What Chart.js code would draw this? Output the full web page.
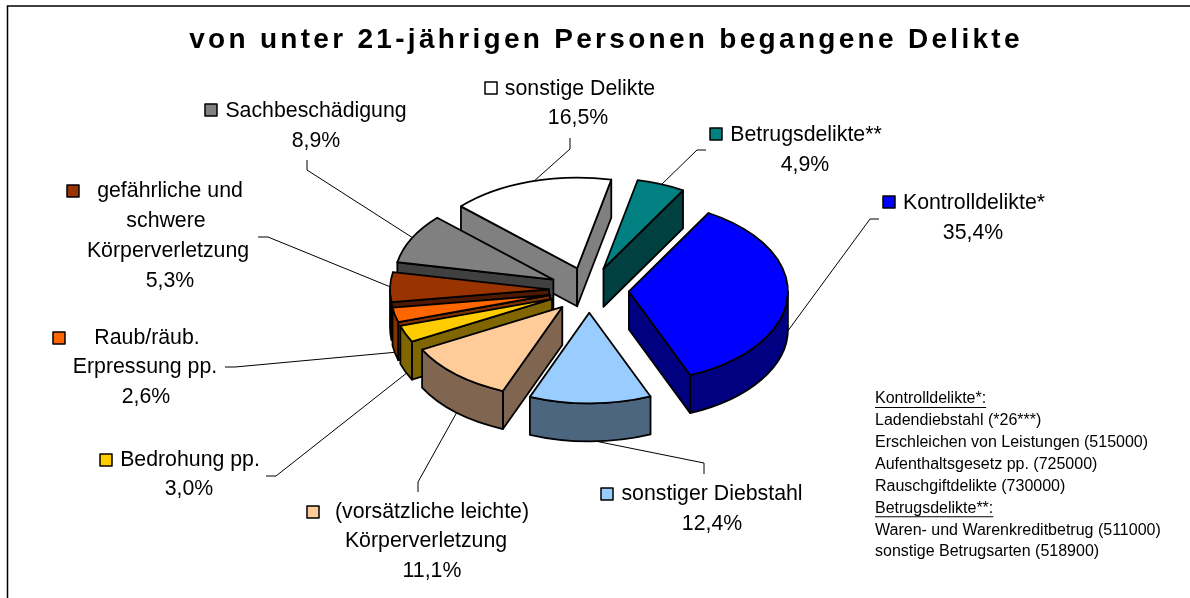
<!DOCTYPE html>
<html lang="de">
<head>
<meta charset="utf-8">
<title>von unter 21-jährigen Personen begangene Delikte</title>
<script src="https://cdn.jsdelivr.net/npm/chart.js@4"></script>
<style>
html,body{margin:0;padding:0;background:#fff;overflow:hidden}
canvas{display:block}
</style>
</head>
<body>
<canvas id="c" width="1190" height="598"></canvas>
<script>
const titleText = 'von unter 21-jährigen Personen begangene Delikte';
const categories = ['Betrugsdelikte**','Kontrolldelikte*','sonstiger Diebstahl','(vorsätzliche leichte) Körperverletzung','Bedrohung pp.','Raub/räub. Erpressung pp.','gefährliche und schwere Körperverletzung','Sachbeschädigung','sonstige Delikte'];
const shares = [4.9,35.4,12.4,11.1,3.0,2.6,5.3,8.9,16.5];
const faceColors = ['#008080','#0000FF','#99CCFF','#FFCC99','#FFCC00','#FF6600','#993300','#808080','#FFFFFF'];
const wallColors = ['#004040','#000080','#4D6680','#806650','#806600','#803300','#4D1900','#404040','#808080'];
const noteLines = ['Kontrolldelikte*:','Ladendiebstahl (*26***)','Erschleichen von Leistungen (515000)','Aufenthaltsgesetz pp. (725000)','Rauschgiftdelikte (730000)','Betrugsdelikte**:','Waren- und Warenkreditbetrug (511000)','sonstige Betrugsarten (518900)'];
const noteUnderlined = [0,5];

/* label layout: text lines (the last line is the share), key square and leader line */
const labelLayout = [
 {lines:[['Betrugsdelikte**',806,134]],pct:[805,164],key:[716,134],lead:[[706,150],[697,150],[661,185]]},
 {lines:[['Kontrolldelikte*',974,202]],pct:[973,232],key:[889,202],lead:[[879,219],[870,219],[787,332]]},
 {lines:[['sonstiger Diebstahl',712,493]],pct:[712,523],key:[607,494],lead:[[704,474],[704,463],[595,441]]},
 {lines:[['(vorsätzliche leichte)',432,511],['Körperverletzung',426,540]],pct:[432,570],key:[313,512],lead:[[418,492],[418,482],[457,412]]},
 {lines:[['Bedrohung pp.',190,459]],pct:[189,488],key:[106,460],lead:[[266,476],[276,476],[408,372]]},
 {lines:[['Raub/räub.',147,337],['Erpressung pp.',145,366]],pct:[146,396],key:[59,338],lead:[[225,367],[235,367],[398,352]]},
 {lines:[['gefährliche und',170,190],['schwere',166,220],['Körperverletzung',168,250]],pct:[170,280],key:[73,191],lead:[[258,237],[268,237],[393,288]]},
 {lines:[['Sachbeschädigung',316,110]],pct:[316,140],key:[211,110],lead:[[307,160],[307,170],[413,238]]},
 {lines:[['sonstige Delikte',580,88]],pct:[578,117],key:[491,88],lead:[[570,138],[570,149],[533,182]]}
];

const FONT = '"Liberation Sans", Arial, sans-serif';
const PIE_X = 589, PIE_Y = 290, SQUASH = 0.57, EXPLODE = 40, DEPTH = 38;
const OUTLINE = 1.8;

const pie3d = {
  id: 'pie3d',
  beforeDraw(chart) {
    const ctx = chart.ctx;
    ctx.fillStyle = '#fff';
    ctx.fillRect(0, 0, chart.width, chart.height);
    ctx.strokeStyle = '#000';
    ctx.lineWidth = 1.5;
    ctx.beginPath();
    ctx.moveTo(7.5, chart.height);
    ctx.lineTo(7.5, 6);
    ctx.lineTo(chart.width, 6);
    ctx.stroke();
    ctx.letterSpacing = '3.3px';
  },
  beforeDatasetsDraw(chart) {
    const ctx = chart.ctx;
    ctx.letterSpacing = '0px';
    const arcs = chart.getDatasetMeta(0).data;

    ctx.strokeStyle = '#000';
    ctx.lineWidth = 1;
    labelLayout.forEach(l => {
      ctx.beginPath();
      l.lead.forEach((p, i) => i ? ctx.lineTo(p[0], p[1]) : ctx.moveTo(p[0], p[1]));
      ctx.stroke();
    });

    const order = arcs.map((a, i) => i).sort((p, q) => {
      const m = i => (arcs[i].startAngle + arcs[i].endAngle) / 2;
      return Math.sin(m(p)) - Math.sin(m(q));
    });
    ctx.lineJoin = 'round';
    order.forEach(i => {
      const arc = arcs[i];
      const a0 = arc.startAngle, a1 = arc.endAngle, R = arc.outerRadius;
      const mid = (a0 + a1) / 2;
      const tx = PIE_X + Math.cos(mid) * EXPLODE;
      const ty = PIE_Y + Math.sin(mid) * EXPLODE * SQUASH;
      const paint = color => {
        ctx.fillStyle = color; ctx.fill();
        ctx.lineWidth = OUTLINE; ctx.strokeStyle = '#000'; ctx.stroke();
      };
      const radialWall = a => {
        const rx = tx + Math.cos(a) * R, ry = ty + Math.sin(a) * R * SQUASH;
        ctx.beginPath();
        ctx.moveTo(tx, ty); ctx.lineTo(rx, ry);
        ctx.lineTo(rx, ry + DEPTH); ctx.lineTo(tx, ty + DEPTH);
        ctx.closePath();
        paint(wallColors[i]);
      };
      if (Math.cos(a0) < 0) radialWall(a0);
      if (Math.cos(a1) > 0) radialWall(a1);
      for (let k = -1; k <= 2; k++) {
        const lo = Math.max(a0, 2 * Math.PI * k), hi = Math.min(a1, 2 * Math.PI * k + Math.PI);
        if (hi > lo) {
          ctx.beginPath();
          ctx.ellipse(tx, ty, R, R * SQUASH, 0, lo, hi);
          ctx.ellipse(tx, ty + DEPTH, R, R * SQUASH, 0, hi, lo, true);
          ctx.closePath();
          paint(wallColors[i]);
        }
      }
      ctx.save();
      ctx.translate(tx, ty);
      ctx.scale(1, SQUASH);
      ctx.translate(-arc.x, -arc.y);
      arc.draw(ctx);
      ctx.restore();
      ctx.beginPath();
      ctx.moveTo(tx, ty);
      ctx.ellipse(tx, ty, R, R * SQUASH, 0, a0, a1);
      ctx.closePath();
      ctx.lineWidth = OUTLINE; ctx.strokeStyle = '#000'; ctx.stroke();
    });
    return false;
  },
  afterDraw(chart) {
    const ctx = chart.ctx;
    ctx.textBaseline = 'middle';
    ctx.textAlign = 'center';
    ctx.fillStyle = '#000';
    ctx.font = '21.3px ' + FONT;
    labelLayout.forEach((l, i) => {
      l.lines.forEach(t => ctx.fillText(t[0], t[1], t[2] + 1));
      ctx.fillText(shares[i].toFixed(1).replace('.', ',') + '%', l.pct[0], l.pct[1] + 1);
      ctx.fillStyle = faceColors[i];
      ctx.strokeStyle = '#000';
      ctx.lineWidth = 1.5;
      ctx.fillRect(l.key[0] - 6, l.key[1] - 6, 12, 12);
      ctx.strokeRect(l.key[0] - 6, l.key[1] - 6, 12, 12);
      ctx.fillStyle = '#000';
    });
    ctx.textAlign = 'left';
    ctx.font = '16px ' + FONT;
    ctx.lineWidth = 1;
    noteLines.forEach((t, i) => {
      const y = 399 + i * 21.85;
      ctx.fillText(t, 875, y);
      if (noteUnderlined.includes(i)) {
        const w = ctx.measureText(t).width;
        ctx.beginPath();
        ctx.moveTo(875, y + 8.5);
        ctx.lineTo(875 + w, y + 8.5);
        ctx.stroke();
      }
    });
  }
};

new Chart(document.getElementById('c'), {
  type: 'pie',
  data: {
    labels: categories,
    datasets: [{ data: shares, backgroundColor: faceColors, borderWidth: 0, radius: 159 }]
  },
  options: {
    responsive: false,
    animation: false,
    rotation: 12.4,
    layout: { padding: { left: 22 } },
    plugins: {
      legend: { display: false },
      tooltip: { enabled: false },
      title: {
        display: true,
        text: titleText,
        color: '#000',
        font: { family: FONT, size: 28, weight: 'bold' },
        padding: { top: 23, bottom: 0 }
      }
    }
  },
  plugins: [pie3d]
});
</script>
</body>
</html>
